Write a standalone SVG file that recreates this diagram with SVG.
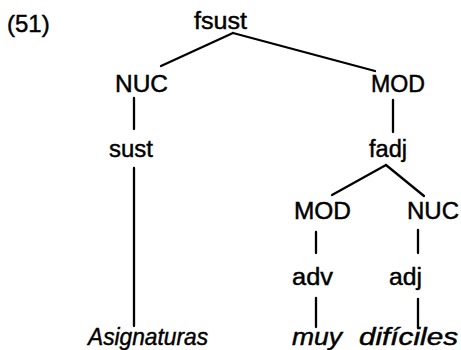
<svg xmlns="http://www.w3.org/2000/svg" width="461" height="350" viewBox="0 0 461 350">
<style>
text{font-family:"Liberation Sans",Arial,sans-serif;font-size:23.5px;fill:#000;stroke:#000;stroke-width:0.45}
.it{font-style:italic}
.edge{stroke:#000;stroke-width:2.3;stroke-linecap:round;fill:none}
</style>
<rect width="461" height="350" fill="#fff"/>
<text x="7" y="32" style="font-size:24px">(51)</text>
<g id="connectors">
<line class="edge" x1="233" y1="33" x2="161" y2="66"/>
<line class="edge" x1="233" y1="33" x2="375" y2="71"/>
<line class="edge" x1="134" y1="98" x2="134" y2="129"/>
<line class="edge" x1="134" y1="168" x2="134" y2="326"/>
<line class="edge" x1="393" y1="100" x2="393" y2="132"/>
<line class="edge" x1="386" y1="165" x2="332" y2="195"/>
<line class="edge" x1="386" y1="165" x2="424" y2="196"/>
<line class="edge" x1="316" y1="232" x2="316" y2="253"/>
<line class="edge" x1="418" y1="230" x2="418" y2="253"/>
<line class="edge" x1="316" y1="298" x2="316" y2="327"/>
<line class="edge" x1="418" y1="299" x2="418" y2="328"/>
</g>
<g id="fsust"><text x="194" y="29" textLength="53" lengthAdjust="spacingAndGlyphs">fsust</text></g>
<g id="nuc1"><text x="115" y="92" textLength="53" lengthAdjust="spacingAndGlyphs">NUC</text></g>
<g id="mod1"><text x="371" y="92" textLength="54" lengthAdjust="spacingAndGlyphs">MOD</text></g>
<g id="sust"><text x="109" y="157" textLength="44" lengthAdjust="spacingAndGlyphs">sust</text></g>
<g id="fadj"><text x="369" y="157" textLength="38" lengthAdjust="spacingAndGlyphs">fadj</text></g>
<g id="mod2"><text x="294" y="219" textLength="57" lengthAdjust="spacingAndGlyphs">MOD</text></g>
<g id="nuc2"><text x="407" y="219" textLength="52" lengthAdjust="spacingAndGlyphs">NUC</text></g>
<g id="adv"><text x="292" y="285" textLength="41" lengthAdjust="spacingAndGlyphs">adv</text></g>
<g id="adj"><text x="389" y="285" textLength="33" lengthAdjust="spacingAndGlyphs">adj</text></g>
<g id="asignaturas"><text class="it" x="88" y="345" textLength="120" lengthAdjust="spacingAndGlyphs">Asignaturas</text></g>
<g id="muy"><text class="it" x="292" y="345" textLength="50" lengthAdjust="spacingAndGlyphs">muy</text></g>
<g id="dificiles"><text class="it" x="359" y="345" textLength="99" lengthAdjust="spacingAndGlyphs">difíciles</text></g>
</svg>
